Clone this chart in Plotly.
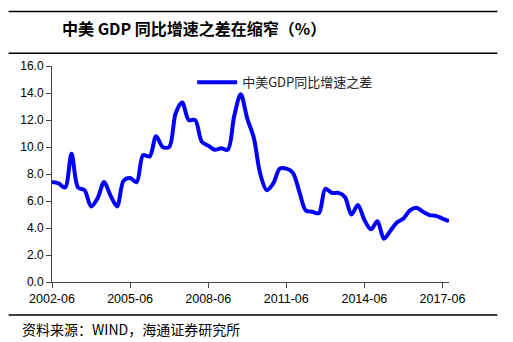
import plotly.graph_objects as go

# quarterly, 2002-06 .. 2017-09
quarters = []
y, m = 2002, 6
for _ in range(62):
    quarters.append(f"{y}-{m:02d}")
    m += 3
    if m > 12:
        m -= 12
        y += 1

diff = [7.4, 7.3, 7.0, 9.5, 7.0, 6.8, 5.6, 6.2, 7.4, 6.4,
        5.6, 7.5, 7.7, 7.4, 9.4, 9.3, 10.8, 10.0, 10.0, 12.5,
        13.3, 12.0, 12.0, 10.4, 10.1, 9.8, 9.9, 9.8, 12.3, 13.9,
        12.1, 10.7, 8.0, 6.8, 7.3, 8.4, 8.4, 8.1, 6.7, 5.3,
        5.2, 5.1, 6.9, 6.6, 6.6, 6.3, 5.0, 5.7, 4.6, 3.9,
        4.5, 3.2, 3.8, 4.4, 4.7, 5.3, 5.5, 5.2, 4.95, 4.9,
        4.7, 4.5]

tick_labels = ["2002-06", "2005-06", "2008-06", "2011-06", "2014-06", "2017-06"]
y_ticks = [0, 2, 4, 6, 8, 10, 12, 14, 16]

W, H = 513, 342
L, R, T, B = 51.5, 449.5, 65.7, 282.0


def px(xp):
    return (xp - L) / (R - L)


def py(yp):
    return (B - yp) / (B - T)


fig = go.Figure()
fig.add_trace(go.Scatter(
    x=quarters, y=diff, mode="lines", name="中美GDP同比增速之差",
    line=dict(color="#0000FF", width=4, shape="spline", smoothing=0.9),
))

fig.update_layout(
    width=W, height=H,
    margin=dict(l=L, r=W - R, t=T, b=H - B),
    paper_bgcolor="white", plot_bgcolor="white",
    font=dict(family="Liberation Sans, Arial, sans-serif", size=12, color="black"),
    showlegend=True,
    legend=dict(x=px(192), y=py(82), xanchor="left", yanchor="middle",
                bgcolor="rgba(0,0,0,0)", itemwidth=40,
                font=dict(family="Noto Sans CJK SC", size=13, color="#222")),
    xaxis=dict(type="category", range=[0, 61], tickmode="array",
               tickvals=tick_labels, ticktext=tick_labels,
               showgrid=False, zeroline=False, showline=True,
               linecolor="#444", linewidth=1, ticks="outside", ticklen=5,
               tickcolor="#444", tickangle=0,
               tickfont=dict(size=12.5)),
    yaxis=dict(range=[0, 16], tickmode="array", tickvals=y_ticks,
               ticktext=[f"{v:.1f}" for v in y_ticks],
               showgrid=False, zeroline=False, showline=True,
               linecolor="#444", linewidth=1, ticks="outside", ticklen=5,
               tickcolor="#444"),
    shapes=[
        dict(type="line", xref="paper", yref="paper", x0=px(8), x1=px(498),
             y0=py(11), y1=py(11), line=dict(color="black", width=1.5)),
        dict(type="line", xref="paper", yref="paper", x0=px(8), x1=px(498),
             y0=py(53), y1=py(53), line=dict(color="black", width=1.5)),
        dict(type="line", xref="paper", yref="paper", x0=px(8), x1=px(498),
             y0=py(315), y1=py(315), line=dict(color="black", width=1.5)),
    ],
    annotations=[
        dict(text="<b>中美 GDP 同比增速之差在缩窄（%）</b>", xref="paper", yref="paper",
             x=px(60), y=py(27.5), xanchor="left", yanchor="middle", showarrow=False,
             font=dict(family="Noto Sans CJK SC", size=16, color="black")),
        dict(text="资料来源：WIND，海通证券研究所", xref="paper", yref="paper",
             x=px(19), y=py(329), xanchor="left", yanchor="middle", showarrow=False,
             font=dict(family="Noto Sans CJK SC", size=14, color="black")),
    ],
)

fig.write_html("out.html")
